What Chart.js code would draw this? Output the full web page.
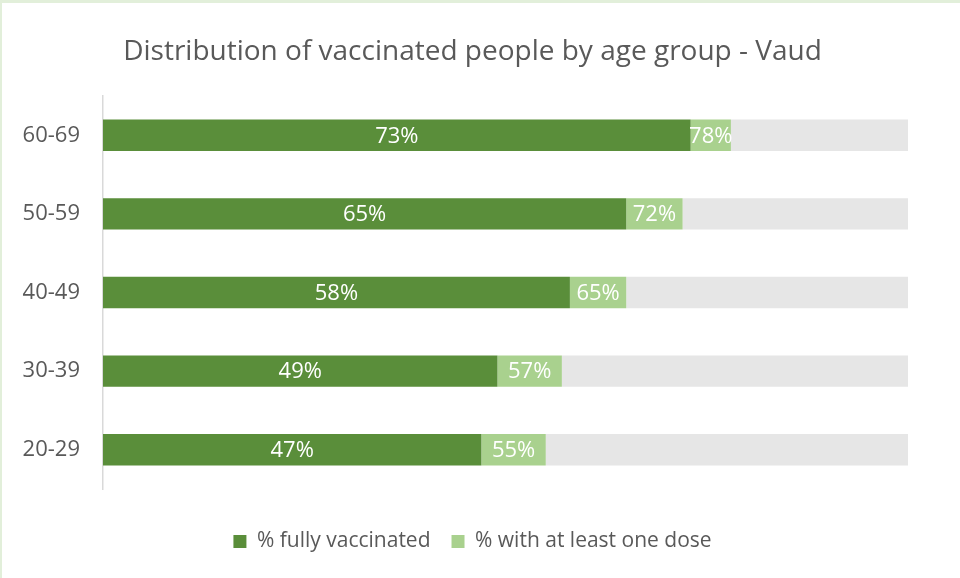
<!DOCTYPE html>
<html>
<head>
<meta charset="utf-8">
<script src="https://cdn.jsdelivr.net/npm/chart.js@4.4.0/dist/chart.umd.min.js"></script>
<style>
  html, body { margin: 0; padding: 0; background: #fff; }
  #wrap { width: 960px; height: 578px; }
</style>
</head>
<body>
<div id="wrap"><canvas id="barChart" width="960" height="578"></canvas></div>
<script>
const ageGroups = ['60-69', '50-59', '40-49', '30-39', '20-29'];
const fullyVaccinated = [73, 65, 58, 49, 47];
const atLeastOneDose = [78, 72, 65, 57, 55];

const font = '"Open Sans", sans-serif';
const textGrey = '#595959';

// light green frame around the whole picture
const framePlugin = {
    id: 'frame',
    beforeDraw(chart) {
        const ctx = chart.ctx;
        ctx.save();
        ctx.fillStyle = '#e2efda';
        ctx.fillRect(0, 0, chart.width, 3);
        ctx.fillRect(0, 0, 2, chart.height);
        ctx.restore();
    }
};

// percentage labels in the middle of the green segments
const barLabels = {
    id: 'barLabels',
    afterDatasetsDraw(chart) {
        const ctx = chart.ctx;
        ctx.save();
        ctx.font = '22px ' + font;
        ctx.fillStyle = '#ffffff';
        ctx.textAlign = 'center';
        ctx.textBaseline = 'middle';
        [fullyVaccinated, atLeastOneDose].forEach((vals, di) => {
            chart.getDatasetMeta(di).data.forEach((bar, i) => {
                const c = bar.getCenterPoint();
                ctx.fillText(vals[i] + '%', c.x, c.y + 1);
            });
        });
        ctx.restore();
    }
};

new Chart(document.getElementById('barChart'), {
    type: 'bar',
    data: {
        labels: ageGroups,
        datasets: [{
            label: '% fully vaccinated',
            data: fullyVaccinated,
            backgroundColor: '#5a8e3a'
        }, {
            label: '% with at least one dose',
            data: atLeastOneDose.map((v, i) => v - fullyVaccinated[i]),
            backgroundColor: '#a9d18e'
        }, {
            label: 'rest',
            data: atLeastOneDose.map(v => 100 - v),
            backgroundColor: '#e6e6e6'
        }]
    },
    options: {
        indexAxis: 'y',
        responsive: false,
        animation: false,
        barPercentage: 0.4,
        categoryPercentage: 1,
        layout: { padding: { top: 0, left: 0, right: 15, bottom: 16 } },
        scales: {
            x: {
                stacked: true,
                min: 0,
                max: 100,
                ticks: { display: false },
                grid: { display: false },
                border: { display: false },
                afterFit(scale) { scale.height = 21; }
            },
            y: {
                stacked: true,
                grid: { display: false, drawTicks: false },
                border: { display: true, color: '#d9d9d9', width: 1.5 },
                ticks: { color: textGrey, font: { family: font, size: 22 }, padding: 23 },
                afterFit(scale) { scale.width = 103; }
            },
            y2: {
                type: 'category',
                position: 'right',
                grid: { display: false },
                border: { display: false },
                ticks: { display: false },
                afterFit(scale) { scale.width = 37; }
            }
        },
        plugins: {
            title: {
                display: true,
                text: 'Distribution of vaccinated people by age group - Vaud',
                color: textGrey,
                font: { family: font, size: 28, weight: 'normal', lineHeight: 1.2 },
                padding: { top: 35.2, bottom: 27.2 }
            },
            legend: {
                position: 'bottom',
                labels: {
                    color: textGrey,
                    font: { family: font, size: 21 },
                    boxWidth: 13,
                    boxHeight: 13,
                    padding: 21,
                    filter: item => item.datasetIndex < 2
                }
            },
            tooltip: { enabled: false }
        }
    },
    plugins: [framePlugin, barLabels]
});
</script>
</body>
</html>
